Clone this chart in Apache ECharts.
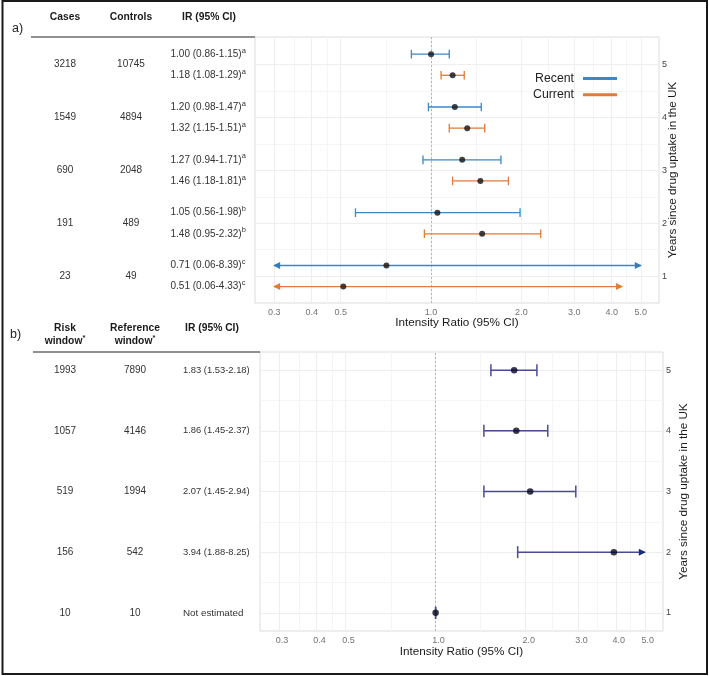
<!DOCTYPE html>
<html>
<head>
<meta charset="utf-8">
<script src="https://cdn.jsdelivr.net/npm/echarts@6/dist/echarts.min.js"></script>
<style>
  html, body { margin: 0; padding: 0; background: #fff; }
  #main { width: 709px; height: 676px; }
</style>
</head>
<body>
<div id="main"></div>
<script>
// years since drug uptake, top row first
const years = [5, 4, 3, 2, 1];

// panel a: recent / current use
const casesA = [3218, 1549, 690, 191, 23];
const controlsA = [10745, 4894, 2048, 489, 49];
const recentIR = [1.00, 1.20, 1.27, 1.05, 0.71];
const recentLo = [0.86, 0.98, 0.94, 0.56, 0.06];
const recentHi = [1.15, 1.47, 1.71, 1.98, 8.39];
const currentIR = [1.18, 1.32, 1.46, 1.48, 0.51];
const currentLo = [1.08, 1.15, 1.18, 0.95, 0.06];
const currentHi = [1.29, 1.51, 1.81, 2.32, 4.33];
const noteA = ['a', 'a', 'a', 'b', 'c'];
const recentArrows = ['', '', '', '', 'both'];
const currentArrows = ['', '', '', '', 'both'];

// panel b: risk vs reference window
const riskB = [1993, 1057, 519, 156, 10];
const refB = [7890, 4146, 1994, 542, 10];
const irB = [1.83, 1.86, 2.07, 3.94, 1.00];
const loB = [1.53, 1.45, 1.45, 1.88, 1.00];
const hiB = [2.18, 2.37, 2.94, 8.25, 1.00];
const estimatedB = [true, true, true, true, false];
const arrowsB = ['', '', '', 'right', ''];

const xTicks = [0.3, 0.4, 0.5, 1.0, 2.0, 3.0, 4.0, 5.0];

const FONT = '"Liberation Sans", Arial, Helvetica, sans-serif';
const xLow = xTicks[0], xHigh = xTicks[xTicks.length - 1];
const dodge = 0.2;
const yRangeA = [0.49, 5.525];
const yRangeB = [0.7, 5.3];

const chart = echarts.init(document.getElementById('main'));

function errorBars(name, idx, color, headColor, lw, capH, lo, hi, ys, arrows) {
  return {
    type: 'custom', name, xAxisIndex: idx, yAxisIndex: idx, z: 10, silent: true,
    itemStyle: { color },
    encode: { x: [0, 1], y: 2 },
    data: ys.map((y, i) => [lo[i], hi[i], y]),
    renderItem(params, api) {
      const mode = arrows[params.dataIndex];
      const y = api.value(2);
      const a = api.coord([Math.max(api.value(0), xLow), y]);
      const b = api.coord([Math.min(api.value(1), xHigh), y]);
      const st = { stroke: color, lineWidth: lw };
      const kids = [{ type: 'line', shape: { x1: a[0], y1: a[1], x2: b[0], y2: b[1] }, style: st }];
      const hl = 6, hw = 3.5;
      if (mode === 'both') {
        kids.push({ type: 'polygon', shape: { points: [[a[0] - 1, a[1]], [a[0] + hl, a[1] - hw], [a[0] + hl, a[1] + hw]] }, style: { fill: headColor } });
      } else {
        kids.push({ type: 'line', shape: { x1: a[0], y1: a[1] - capH, x2: a[0], y2: a[1] + capH }, style: st });
      }
      if (mode) {
        kids.push({ type: 'polygon', shape: { points: [[b[0] + 1, b[1]], [b[0] - hl, b[1] - hw], [b[0] - hl, b[1] + hw]] }, style: { fill: headColor } });
      } else {
        kids.push({ type: 'line', shape: { x1: b[0], y1: b[1] - capH, x2: b[0], y2: b[1] + capH }, style: st });
      }
      return { type: 'group', children: kids };
    }
  };
}

function points(name, idx, est, ys, size, color) {
  return {
    type: 'scatter', name, xAxisIndex: idx, yAxisIndex: idx, z: 11, silent: true,
    symbolSize: size, itemStyle: { color },
    data: ys.map((y, i) => [est[i], y])
  };
}

// grid lines + x tick labels, drawn on the axis scales
function helper(idx, yMin, labelShift) {
  const minorX = xTicks.slice(1).map((v, i) => Math.sqrt(v * xTicks[i]));
  const minor = { color: '#f5f5f5', width: 1, type: 'solid' };
  const major = { color: '#eeeeee', width: 1, type: 'solid' };
  const lines = [];
  minorX.forEach(v => lines.push({ xAxis: v, lineStyle: minor }));
  years.slice(1).forEach(y => lines.push({ yAxis: y + 0.5, lineStyle: minor }));
  xTicks.forEach(v => lines.push({ xAxis: v, lineStyle: major }));
  years.forEach(y => lines.push({ yAxis: y, lineStyle: major }));
  lines.push({ xAxis: 1, lineStyle: { color: '#b5b5b5', width: 1, type: [2, 2] } });
  return {
    type: 'scatter', xAxisIndex: idx, yAxisIndex: idx, z: 1, silent: true, clip: false,
    symbolSize: 1, itemStyle: { color: 'rgba(0,0,0,0)' },
    data: xTicks.map(v => [v, yMin]),
    label: {
      show: true, position: 'bottom', distance: 5, offset: [labelShift, 0],
      formatter: p => p.value[0].toFixed(1),
      fontSize: 9, color: '#4d4d4d', fontFamily: FONT
    },
    markLine: {
      silent: true, symbol: ['none', 'none'], label: { show: false }, animation: false, z: 1,
      data: lines
    }
  };
}

function xAxisCfg(idx, gap) {
  return {
    type: 'log', gridIndex: idx, logBase: 10, min: 0.259, max: 5.75,
    axisLine: { show: false }, axisTick: { show: false }, axisLabel: { show: false },
    splitLine: { show: false },
    name: 'Intensity Ratio (95% CI)', nameLocation: 'middle', nameGap: gap,
    nameTextStyle: { fontSize: 11.7, color: '#1a1a1a', fontFamily: FONT }
  };
}

function yAxisCfg(idx, range, gap) {
  return {
    type: 'value', gridIndex: idx, position: 'right', min: range[0], max: range[1],
    axisLine: { show: false }, axisTick: { show: false }, splitLine: { show: false },
    axisLabel: { customValues: years, margin: 3, fontSize: 9, color: '#444', fontFamily: FONT, padding: [6, 0, 0, 0] },
    name: 'Years since drug uptake in the UK', nameLocation: 'middle', nameRotate: 90,
    nameGap: gap, nameMoveOverlap: false,
    nameTextStyle: { fontSize: 11.7, color: '#1a1a1a', fontFamily: FONT }
  };
}

const recentY = years.map(y => y + dodge);
const currentY = years.map(y => y - dodge);

chart.setOption({
  animation: false,
  backgroundColor: '#fff',
  textStyle: { fontFamily: FONT },
  grid: [
    { left: 255, top: 37, width: 404, height: 266, show: true, borderColor: '#dcdcdc', borderWidth: 1, backgroundColor: '#fff', outerBoundsMode: 'none' },
    { left: 260, top: 352, width: 403, height: 279, show: true, borderColor: '#dcdcdc', borderWidth: 1, backgroundColor: '#fff', outerBoundsMode: 'none' }
  ],
  xAxis: [xAxisCfg(0, 14), xAxisCfg(1, 15)],
  yAxis: [yAxisCfg(0, yRangeA, 8), yAxisCfg(1, yRangeB, 15)],
  legend: {
    data: [{ name: 'Recent', icon: 'rect' }, { name: 'Current', icon: 'rect' }],
    orient: 'vertical', left: 528, top: 66.5, align: 'right',
    itemWidth: 34, itemHeight: 3, itemGap: 2.3, selectedMode: false,
    itemStyle: { borderWidth: 0 },
    textStyle: { fontSize: 12.3, color: '#222', fontFamily: FONT, lineHeight: 14, padding: [0, 4, 0, 0] }
  },
  series: [
    helper(0, yRangeA[0], 0),
    errorBars('Recent', 0, '#3a88c8', '#2f7fc0', 1.3, 4.3, recentLo, recentHi, recentY, recentArrows),
    errorBars('Current', 0, '#e07b39', '#e07b39', 1.3, 4.3, currentLo, currentHi, currentY, currentArrows),
    points('Recent IR', 0, recentIR, recentY, 6, '#111'),
    points('Current IR', 0, currentIR, currentY, 6, '#111'),
    helper(1, yRangeB[0], 3),
    errorBars('IR', 1, '#4a4a98', '#1c2b80', 1.5, 6, loB, hiB, years, arrowsB),
    points('IR est', 1, irB, years, 6.5, '#07071c')
  ]
});

// ----- table text on the left, aligned to the plot rows -----
const py = (idx, v) => chart.convertToPixel({ yAxisIndex: idx }, v);

function txt(x, y, text, o) {
  o = o || {};
  const align = o.align || 'center';
  return {
    type: 'text', silent: true, z: 5,
    style: {
      x, y, text, fill: o.fill || '#333', fontSize: o.size || 10, fontFamily: FONT,
      fontWeight: o.weight || 'normal', align, textAlign: align,
      verticalAlign: 'middle', textVerticalAlign: 'middle', rich: o.rich
    }
  };
}

const supRich = (size, weight, color) => ({
  m: { fontSize: size, fontFamily: FONT, fontWeight: weight, fill: color, color, lineHeight: 15 },
  s: { fontSize: 7.5, fontFamily: FONT, fontWeight: weight, fill: color, color, lineHeight: 7.5, verticalAlign: 'top' }
});

const fmtIR = (e, l, h) => e.toFixed(2) + ' (' + l.toFixed(2) + '-' + h.toFixed(2) + ')';

const g = [];
// outer frame
g.push({ type: 'rect', silent: true, z: 20, shape: { x: 2.5, y: 1, width: 704.5, height: 673 }, style: { fill: 'none', stroke: '#1a1a1a', lineWidth: 2 } });

// panel a header
const hd = { size: 10.3, weight: 'bold', fill: '#1a1a1a' };
g.push(txt(12, 29, 'a)', { size: 12.5, align: 'left', fill: '#222' }));
g.push(txt(65, 17, 'Cases', hd));
g.push(txt(131, 17, 'Controls', hd));
g.push(txt(209, 17, 'IR (95% CI)', hd));
g.push({ type: 'line', silent: true, shape: { x1: 31, y1: 37, x2: 255, y2: 37 }, style: { stroke: '#222', lineWidth: 1 } });

years.forEach((y, i) => {
  const ym = py(0, y);
  g.push(txt(65, ym, String(casesA[i])));
  g.push(txt(131, ym, String(controlsA[i])));
  g.push(txt(170.5, py(0, recentY[i]), '{m|' + fmtIR(recentIR[i], recentLo[i], recentHi[i]) + '}{s|' + noteA[i] + '}',
    { align: 'left', rich: supRich(10, 'normal', '#333') }));
  g.push(txt(170.5, py(0, currentY[i]), '{m|' + fmtIR(currentIR[i], currentLo[i], currentHi[i]) + '}{s|' + noteA[i] + '}',
    { align: 'left', rich: supRich(10, 'normal', '#333') }));
});

// panel b header
g.push(txt(10, 335, 'b)', { size: 12.5, align: 'left', fill: '#222' }));
g.push(txt(65, 328, 'Risk', hd));
g.push(txt(65, 341, '{m|window}{s|*}', { rich: supRich(10.3, 'bold', '#1a1a1a') }));
g.push(txt(135, 328, 'Reference', hd));
g.push(txt(135, 341, '{m|window}{s|*}', { rich: supRich(10.3, 'bold', '#1a1a1a') }));
g.push(txt(212, 328, 'IR (95% CI)', hd));
g.push({ type: 'line', silent: true, shape: { x1: 33, y1: 352, x2: 260, y2: 352 }, style: { stroke: '#222', lineWidth: 1 } });

years.forEach((y, i) => {
  const ym = py(1, y);
  g.push(txt(65, ym, String(riskB[i])));
  g.push(txt(135, ym, String(refB[i])));
  const label = estimatedB[i] ? fmtIR(irB[i], loB[i], hiB[i]) : 'Not estimated';
  g.push(txt(183, ym, label, { align: 'left', size: estimatedB[i] ? 9.4 : 9.8 }));
});

chart.setOption({ graphic: { elements: g } });
</script>
</body>
</html>
